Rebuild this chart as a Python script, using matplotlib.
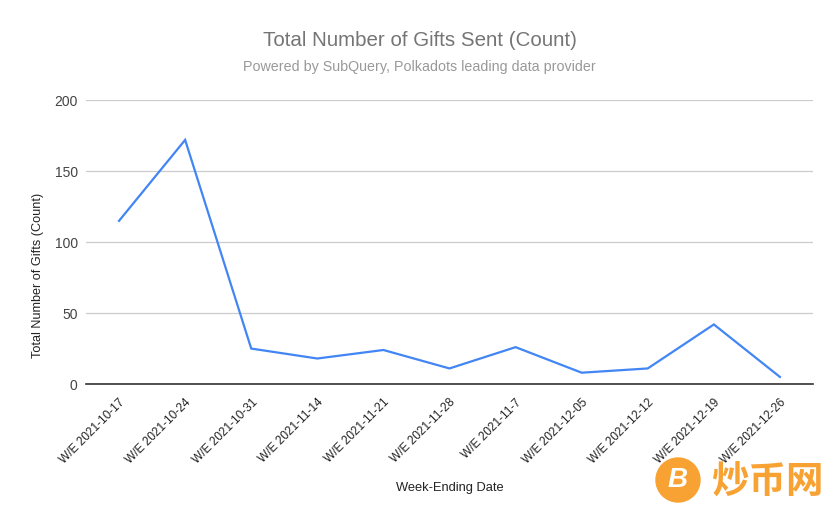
import matplotlib.pyplot as plt
from matplotlib.patches import Circle

plt.rcParams['font.family'] = ['Liberation Sans', 'DejaVu Sans']

# ---- data ----
weeks = ["W/E 2021-10-17", "W/E 2021-10-24", "W/E 2021-10-31", "W/E 2021-11-14",
         "W/E 2021-11-21", "W/E 2021-11-28", "W/E 2021-11-7", "W/E 2021-12-05",
         "W/E 2021-12-12", "W/E 2021-12-19", "W/E 2021-12-26"]
gifts = [115, 172, 25, 18, 24, 11, 26, 8, 11, 42, 5]
yticks = [0, 50, 100, 150, 200]

fig = plt.figure(figsize=(8.39, 5.19), dpi=100)
ax = fig.add_axes([0.1025, 0.260, 0.8665, 0.547])

x = list(range(len(weeks)))
ax.plot(x, gifts, color="#4285F4", lw=1.6, solid_joinstyle="miter")

ax.set_xlim(-0.5, len(weeks) - 0.5)
ax.set_ylim(0, 200)
ax.set_yticks(yticks)
ax.set_yticklabels([str(v) for v in yticks], fontsize=10, color="#444444")
ax.grid(axis="y", color="#cccccc", lw=0.9)
ax.set_axisbelow(True)
for s in ["top", "right", "left"]:
    ax.spines[s].set_visible(False)
ax.spines["bottom"].set_color("#333333")
ax.spines["bottom"].set_linewidth(1.2)
ax.tick_params(axis="both", length=0, pad=6)

ax.set_xticks(x)
ax.set_xticklabels(weeks, rotation=45, ha="right", va="top",
                   rotation_mode="anchor", fontsize=8.6, color="#222222")
ax.tick_params(axis="x", pad=9)

ax.set_xlabel("Week-Ending Date", fontsize=9.3, color="#222222")
ax.set_ylabel("Total Number of Gifts (Count)", fontsize=9.1, color="#222222")
ax.xaxis.set_label_coords(0.5, -0.345)
ax.yaxis.set_label_coords(-0.058, 0.384)

fig.text(0.5, 1 - 40 / 519, "Total Number of Gifts Sent (Count)", ha="center", va="center",
         fontsize=14.8, color="#757575")
fig.text(0.5, 1 - 67 / 519, "Powered by SubQuery, Polkadots leading data provider",
         ha="center", va="center", fontsize=10.3, color="#999999")

# watermark
orange = "#F7A233"
fig.patches.append(Circle((6.78, (519 - 480) / 100), 0.22, transform=fig.dpi_scale_trans,
                          color=orange, zorder=5))
fig.text(678 / 839, 1 - 480 / 519, "B", ha="center", va="center", fontsize=20,
         fontweight="bold", style="italic", color="white", zorder=6)
fig.text(767 / 839, 1 - 481 / 519, "炒币网", ha="center", va="center", fontsize=27,
         fontweight="bold", color=orange, family=["Noto Sans CJK SC", "DejaVu Sans"], zorder=6)

fig.savefig("out.png", dpi=100)
